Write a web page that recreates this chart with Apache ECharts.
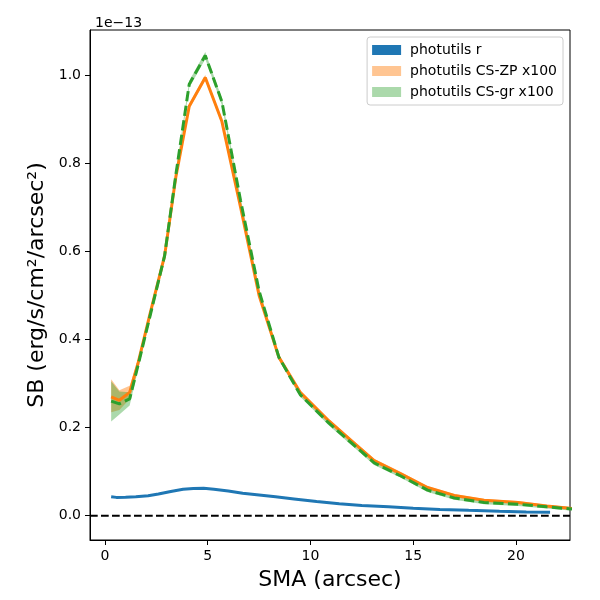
<!DOCTYPE html>
<html>
<head>
<meta charset="utf-8">
<script src="https://cdn.jsdelivr.net/npm/echarts@6/dist/echarts.min.js"></script>
<style>
  html, body { margin: 0; padding: 0; background: #fff; }
  #chart { width: 600px; height: 600px; }
</style>
</head>
<body>
<div id="chart"></div>
<script>
// SMA grid of the CS profiles (arcsec)
var sma = [0.3, 0.7, 1.2, 1.6, 2.2, 2.9, 3.45, 4.1, 4.88, 5.69, 6.6, 7.5, 8.46, 9.5,
           10.9, 12.0, 13.1, 14.4, 15.7, 17.0, 18.45, 20.1, 21.5, 23.0];
// photutils CS-ZP x100 (units of 1e-13)
var zp   = [0.27, 0.262, 0.28, 0.345, 0.46, 0.59, 0.77, 0.93, 0.995, 0.895, 0.70, 0.50, 0.36, 0.28,
            0.215, 0.17, 0.125, 0.095, 0.064, 0.046, 0.035, 0.030, 0.022, 0.015];
var zpLo = [0.235, 0.24, 0.265, 0.337, 0.454, 0.584, 0.764, 0.924, 0.989, 0.889, 0.694, 0.495, 0.355, 0.276,
            0.211, 0.166, 0.121, 0.091, 0.061, 0.043, 0.032, 0.027, 0.019, 0.012];
var zpHi = [0.31, 0.285, 0.295, 0.353, 0.466, 0.596, 0.776, 0.936, 1.001, 0.901, 0.706, 0.505, 0.365, 0.284,
            0.219, 0.174, 0.129, 0.099, 0.067, 0.049, 0.038, 0.033, 0.025, 0.018];
// photutils CS-gr x100
var gr   = [0.26, 0.254, 0.265, 0.34, 0.455, 0.59, 0.775, 0.98, 1.045, 0.94, 0.715, 0.51, 0.36, 0.275,
            0.21, 0.165, 0.12, 0.09, 0.058, 0.04, 0.03, 0.026, 0.02, 0.014];
var grLo = [0.214, 0.23, 0.25, 0.33, 0.448, 0.583, 0.768, 0.972, 1.037, 0.932, 0.708, 0.504, 0.354, 0.27,
            0.205, 0.16, 0.115, 0.086, 0.054, 0.036, 0.026, 0.022, 0.016, 0.01];
var grHi = [0.305, 0.282, 0.28, 0.35, 0.462, 0.597, 0.782, 0.988, 1.053, 0.948, 0.722, 0.516, 0.366, 0.28,
            0.215, 0.17, 0.125, 0.094, 0.062, 0.044, 0.034, 0.03, 0.024, 0.018];
// photutils r
var smaR = [0.3, 0.55, 1.0, 1.5, 2.1, 2.6, 3.2, 3.8, 4.3, 4.8, 5.3, 6.0, 6.7, 7.5, 8.3, 9.2,
            10.3, 11.4, 12.5, 13.8, 15.0, 16.3, 17.7, 19.2, 20.5, 21.66];
var rr   = [0.043, 0.0415, 0.042, 0.043, 0.045, 0.049, 0.055, 0.06, 0.0615, 0.062, 0.06, 0.056, 0.051, 0.047, 0.043, 0.038,
            0.032, 0.027, 0.023, 0.02, 0.017, 0.014, 0.012, 0.01, 0.0085, 0.0075];

var xTicks = [0, 5, 10, 15, 20];
var yTicks = [0, 0.2, 0.4, 0.6, 0.8, 1.0];

var FONT = 'DejaVu Sans';
var BLUE = '#1f77b4', ORANGE = '#ff7f0e', GREEN = '#2ca02c';

function pairs(xs, ys) {
    return xs.map(function (x, i) { return [x, ys[i]]; });
}

// filled band between lo and hi, drawn through the axes' coord system
function band(name, lo, hi, fill, z) {
    return {
        name: name,
        type: 'custom',
        clip: true,
        z: z,
        silent: true,
        itemStyle: { color: fill },
        data: [0],
        renderItem: function (params, api) {
            var pts = [];
            for (var i = 0; i < sma.length; i++) pts.push(api.coord([sma[i], hi[i]]));
            for (var j = sma.length - 1; j >= 0; j--) pts.push(api.coord([sma[j], lo[j]]));
            return {
                type: 'polygon',
                shape: { points: pts },
                style: { fill: fill, stroke: null }
            };
        }
    };
}

var myChart = echarts.init(document.getElementById('chart'));
var option = {
    backgroundColor: '#ffffff',
    animation: false,
    title: {
        text: '1e\u221213',
        left: 90,
        top: 11,
        textStyle: { fontFamily: FONT, fontSize: 14, fontWeight: 'normal', color: '#000' }
    },
    grid: {
        left: 90, right: 30, top: 30, bottom: 60,
        show: true, borderColor: '#000', borderWidth: 1
    },
    legend: {
        right: 37,
        top: 37,
        orient: 'vertical',
        itemWidth: 29,
        itemHeight: 10,
        itemGap: 7,
        padding: [6, 6, 6, 5],
        borderColor: '#cccccc',
        borderWidth: 1,
        borderRadius: 3,
        backgroundColor: 'rgba(255,255,255,0.8)',
        textStyle: { fontFamily: FONT, fontSize: 14, color: '#000', padding: [0, 0, 0, 4] },
        data: [
            { name: 'photutils r', icon: 'rect', itemStyle: { color: BLUE } },
            { name: 'photutils CS-ZP x100', icon: 'rect', itemStyle: { color: 'rgba(255,127,14,0.45)' } },
            { name: 'photutils CS-gr x100', icon: 'rect', itemStyle: { color: 'rgba(44,160,44,0.4)' } }
        ]
    },
    xAxis: {
        type: 'value',
        min: -0.73,
        max: 22.63,
        name: 'SMA (arcsec)',
        nameLocation: 'middle',
        nameGap: 29,
        nameTextStyle: { fontFamily: FONT, fontSize: 22, color: '#000' },
        axisLine: { show: true, onZero: false, lineStyle: { color: '#000', width: 1 } },
        axisTick: { show: true, length: 5, lineStyle: { color: '#000' }, customValues: xTicks },
        axisLabel: { fontFamily: FONT, fontSize: 14, color: '#000', margin: 9, customValues: xTicks },
        splitLine: { show: false }
    },
    yAxis: {
        type: 'value',
        min: -0.0553,
        max: 1.103,
        name: 'SB (erg/s/cm\u00b2/arcsec\u00b2)',
        nameLocation: 'middle',
        nameGap: 42,
        nameTextStyle: { fontFamily: FONT, fontSize: 22, color: '#000' },
        axisLine: { show: true, onZero: false, lineStyle: { color: '#000', width: 1 } },
        axisTick: { show: true, length: 5, lineStyle: { color: '#000' }, customValues: yTicks },
        axisLabel: {
            fontFamily: FONT, fontSize: 14, color: '#000', margin: 9, customValues: yTicks,
            formatter: function (v) { return v.toFixed(1); }
        },
        splitLine: { show: false }
    },
    series: [
        {
            name: 'zero',
            type: 'line',
            data: [[-0.73, 0], [22.63, 0]],
            symbol: 'none',
            silent: true,
            z: 1,
            lineStyle: { color: '#000', width: 2, type: [7.7, 3.3] }
        },
        band('photutils CS-ZP x100', zpLo, zpHi, 'rgba(255,127,14,0.45)', 2),
        band('photutils CS-gr x100', grLo, grHi, 'rgba(44,160,44,0.4)', 3),
        {
            name: 'photutils r',
            type: 'line',
            data: pairs(smaR, rr),
            symbol: 'none',
            smooth: false,
            z: 4,
            itemStyle: { color: BLUE },
            lineStyle: { color: BLUE, width: 3 }
        },
        {
            name: 'zp line',
            type: 'line',
            data: pairs(sma, zp),
            symbol: 'none',
            z: 5,
            lineStyle: { color: ORANGE, width: 3 }
        },
        {
            name: 'gr line',
            type: 'line',
            data: pairs(sma, gr),
            symbol: 'none',
            z: 6,
            lineStyle: { color: GREEN, width: 3, type: [10.3, 4.4] }
        }
    ]
};
myChart.setOption(option);
</script>
</body>
</html>
